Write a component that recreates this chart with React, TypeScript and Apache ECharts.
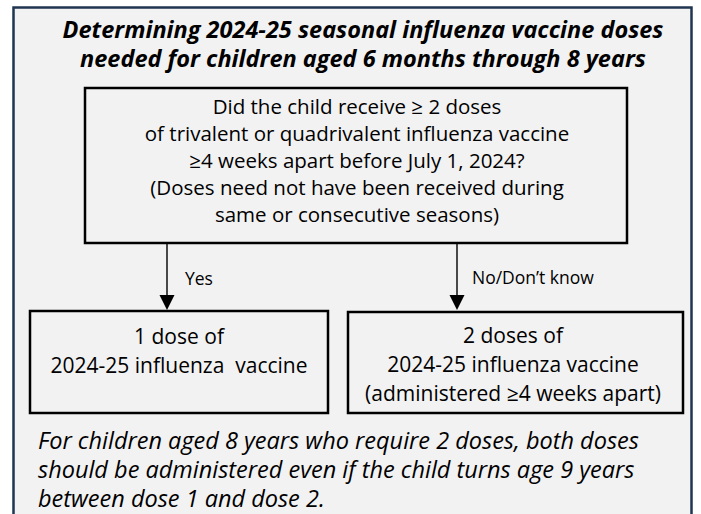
import React, { useEffect, useRef } from "react";
import * as echarts from "echarts";

const titleLines = [
  "Determining 2024-25 seasonal influenza vaccine doses",
  "needed for children aged 6 months through 8 years",
];
const questionLines = [
  "Did the child receive \u2265 2 doses",
  "of trivalent or quadrivalent influenza vaccine",
  "\u22654 weeks apart before July 1, 2024?",
  "(Doses need not have been received during",
  "same or consecutive seasons)",
];
const yesLabel = "Yes";
const noLabel = "No/Don\u2019t know";
const oneDoseLines = ["1 dose of", "2024-25 influenza  vaccine"];
const twoDoseLines = [
  "2 doses of",
  "2024-25 influenza vaccine",
  "(administered \u22654 weeks apart)",
];
const noteLines = [
  "For children aged 8 years who require 2 doses, both doses",
  "should be administered even if the child turns age 9 years",
  "between dose 1 and dose 2.",
];

const FONT = "'Open Sans', Lato, sans-serif";

export default function App() {
  const ref = useRef<HTMLDivElement>(null);
  useEffect(() => {
    document.body.style.margin = "0";
    const chart = echarts.init(ref.current!, null, { renderer: "svg" });
    const els: any[] = [];
    // outer frame
    els.push({
      type: "rect",
      shape: { x: 13.5, y: 7.5, width: 678, height: 530 },
      style: { fill: "#f2f2f2", stroke: "#1f3550", lineWidth: 2.5 },
    });
    const txt = (
      text: string,
      x: number,
      y: number,
      size: number,
      opts: any = {}
    ) => ({
      type: "text",
      x,
      y,
      style: {
        text,
        fontFamily: FONT,
        fontSize: size,
        fill: "#000",
        align: opts.align || "center",
        verticalAlign: "middle",
        fontWeight: opts.bold ? "bold" : "normal",
        fontStyle: opts.italic ? "italic" : "normal",
      },
    });
    titleLines.forEach((t, i) =>
      els.push(txt(t, 363, 29 + i * 29, 23.5, { bold: true, italic: true }))
    );
    // question box
    els.push({
      type: "rect",
      shape: { x: 85, y: 88, width: 542, height: 155 },
      style: { fill: "none", stroke: "#000", lineWidth: 2.5 },
    });
    questionLines.forEach((t, i) => els.push(txt(t, 357, 106 + i * 27, 20.5)));
    // arrows
    [167, 457].forEach((ax) => {
      els.push({
        type: "line",
        shape: { x1: ax, y1: 244, x2: ax, y2: 297 },
        style: { stroke: "#000", lineWidth: 1.4 },
      });
      els.push({
        type: "polygon",
        shape: { points: [[ax - 7.5, 295], [ax + 7.5, 295], [ax, 310]] },
        style: { fill: "#000" },
      });
    });
    els.push(txt(yesLabel, 185, 278, 17.5, { align: "left" }));
    els.push(txt(noLabel, 472, 277, 17.5, { align: "left" }));
    // result boxes
    els.push({
      type: "rect",
      shape: { x: 30, y: 311, width: 298, height: 102 },
      style: { fill: "none", stroke: "#000", lineWidth: 2.5 },
    });
    oneDoseLines.forEach((t, i) => els.push(txt(t, 179, 336 + i * 29, 21)));
    els.push({
      type: "rect",
      shape: { x: 348, y: 312, width: 335, height: 101 },
      style: { fill: "none", stroke: "#000", lineWidth: 2.5 },
    });
    twoDoseLines.forEach((t, i) => els.push(txt(t, 513, 335 + i * 29, 21)));
    noteLines.forEach((t, i) =>
      els.push(txt(t, 38, 440 + i * 29.2, 23.5, { italic: true, align: "left" }))
    );
    chart.setOption({ animation: false, graphic: { elements: els } });
    return () => chart.dispose();
  }, []);
  return <div ref={ref} style={{ width: 701, height: 514 }} />;
}
